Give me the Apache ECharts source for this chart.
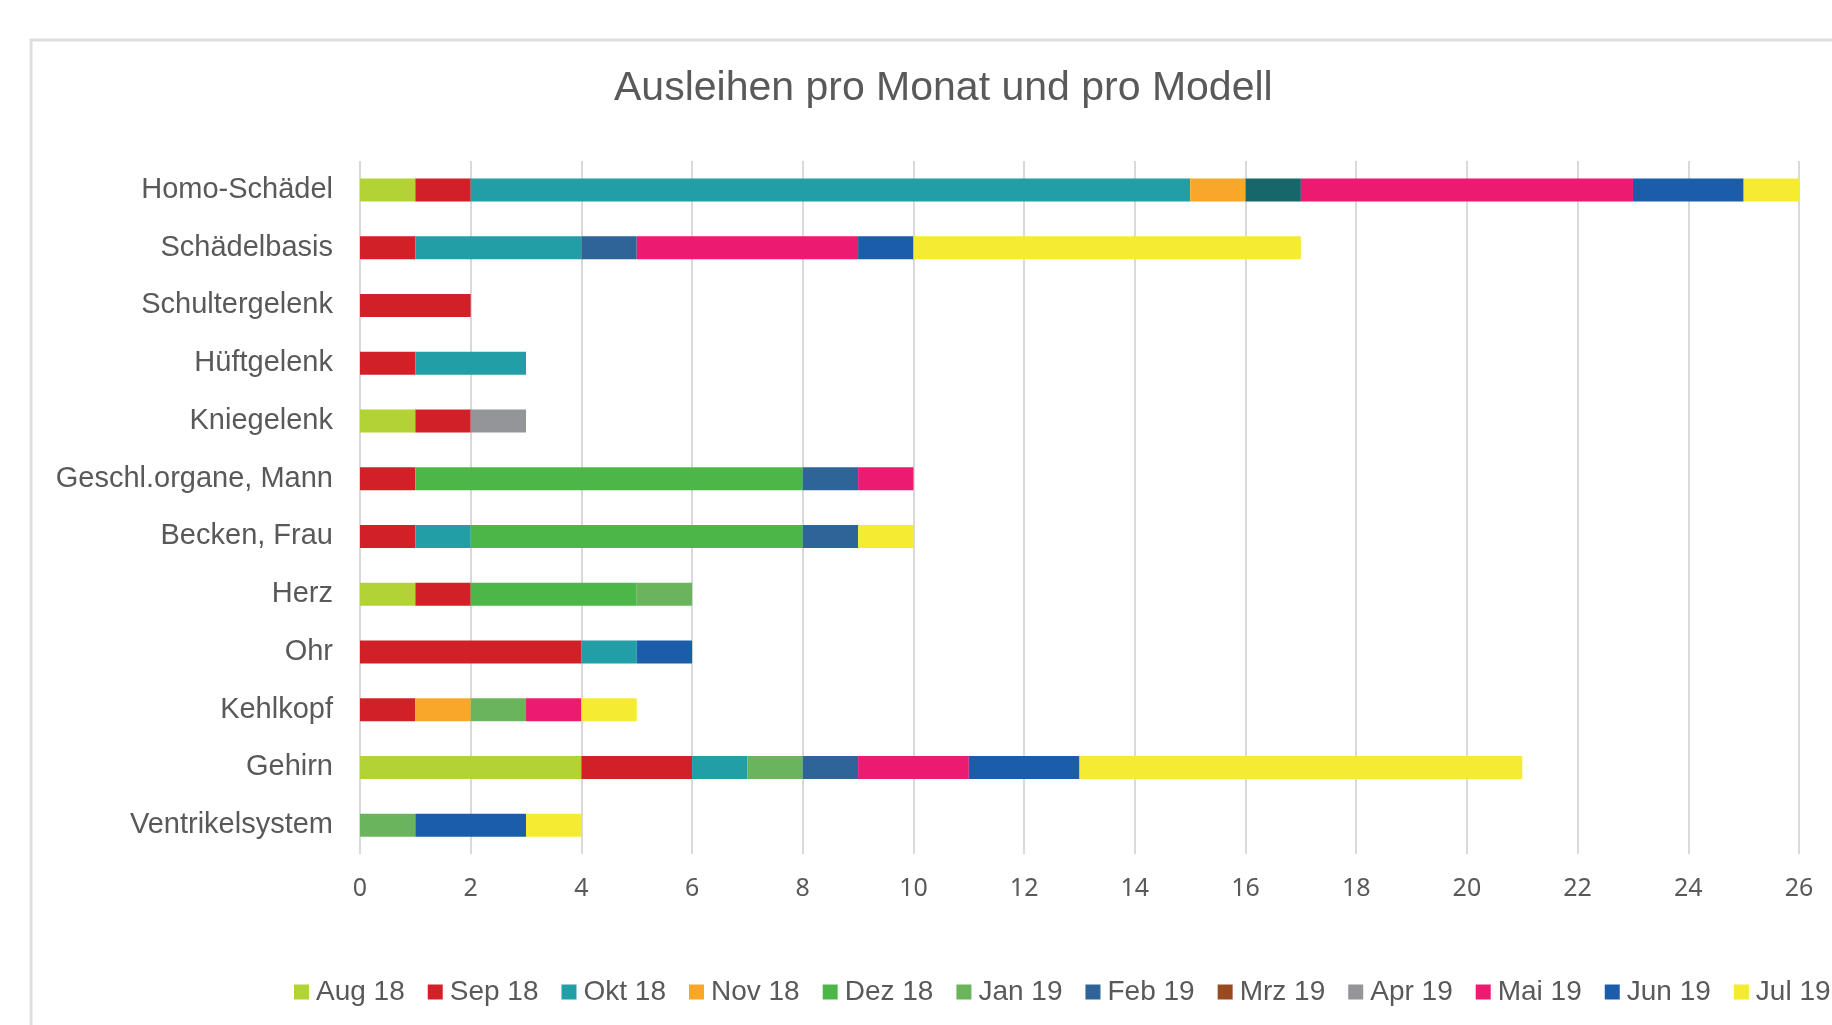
<!DOCTYPE html>
<html>
<head>
<meta charset="utf-8">
<title>Ausleihen pro Monat und pro Modell</title>
<script src="https://cdn.jsdelivr.net/npm/echarts@6/dist/echarts.min.js"></script>
<style>
    html, body { margin: 0; padding: 0; background: #fff; }
    .chart { width: 1832px; height: 1025px; }
</style>
</head>
<body>
<div class="chart"></div>
<script>
// Modelle (von oben nach unten)
var categories = ['Homo-Schädel', 'Schädelbasis', 'Schultergelenk', 'Hüftgelenk', 'Kniegelenk',
    'Geschl.organe, Mann', 'Becken, Frau', 'Herz', 'Ohr', 'Kehlkopf', 'Gehirn', 'Ventrikelsystem'];

var months = ['Aug 18', 'Sep 18', 'Okt 18', 'Nov 18', 'Dez 18', 'Jan 19',
    'Feb 19', 'Mrz 19', 'Apr 19', 'Mai 19', 'Jun 19', 'Jul 19'];

// Ausleihen je Monat, Reihenfolge wie categories
var aug18 = [1, 0, 0, 0, 1, 0, 0, 1, 0, 0, 4, 0];
var sep18 = [1, 1, 2, 1, 1, 1, 1, 1, 4, 1, 2, 0];
var okt18 = [13, 3, 0, 2, 0, 0, 1, 0, 1, 0, 1, 0];
var nov18 = [1, 0, 0, 0, 0, 0, 0, 0, 0, 1, 0, 0];
var dez18 = [0, 0, 0, 0, 0, 7, 6, 3, 0, 0, 0, 0];
var jan19 = [0, 0, 0, 0, 0, 0, 0, 1, 0, 1, 1, 1];
var feb19 = [0, 1, 0, 0, 0, 1, 1, 0, 0, 0, 1, 0];
var mrz19 = [1, 0, 0, 0, 0, 0, 0, 0, 0, 0, 0, 0];
var apr19 = [0, 0, 0, 0, 1, 0, 0, 0, 0, 0, 0, 0];
var mai19 = [6, 4, 0, 0, 0, 1, 0, 0, 0, 1, 2, 0];
var jun19 = [2, 1, 0, 0, 0, 0, 0, 0, 1, 0, 2, 2];
var jul19 = [1, 7, 0, 0, 0, 0, 1, 0, 0, 1, 8, 1];

var xTicks = [0, 2, 4, 6, 8, 10, 12, 14, 16, 18, 20, 22, 24, 26];

var values = [aug18, sep18, okt18, nov18, dez18, jan19, feb19, mrz19, apr19, mai19, jun19, jul19];
var colors = ['#B2D235', '#D12027', '#229EA6', '#F9A729', '#4CB748', '#6AB55B',
    '#2E6497', '#9A4A21', '#939598', '#EC1A70', '#1C5DAA', '#F5EB31'];

var labelColor = '#595959';
var fontFam = "'Liberation Sans', Arial, sans-serif";

var series = months.map(function (m, i) {
    return {
        name: m,
        type: 'bar',
        stack: 'total',
        barWidth: 23,
        itemStyle: { color: colors[i] },
        emphasis: { disabled: true },
        data: values[i].map(function (v, j) {
            if (!v) return '-';
            // im Original ist der Mrz-19-Balken beim Homo-Schädel dunkel eingefärbt
            if (m === 'Mrz 19' && j === 0) return { value: v, itemStyle: { color: '#16666A' } };
            return v;
        })
    };
});

var dom = document.getElementsByClassName('chart')[0];
var myChart = echarts.init(dom, null, { renderer: 'canvas' });
var option = {
    animation: false,
    backgroundColor: '#fff',
    title: {
        text: 'Ausleihen pro Monat und pro Modell',
        left: 609,
        top: 63,
        textStyle: { color: labelColor, fontSize: 41, fontWeight: 'normal', fontFamily: fontFam }
    },
    graphic: [{
        type: 'rect',
        shape: { x: 31, y: 40, width: 1900, height: 1100 },
        style: { fill: 'none', stroke: '#dedede', lineWidth: 3 },
        silent: true
    }],
    legend: {
        data: months,
        left: 289,
        top: 973,
        width: 1700,
        itemWidth: 15,
        itemHeight: 15,
        itemGap: 23,
        icon: 'rect',
        selectedMode: false,
        textStyle: { color: labelColor, fontSize: 28, fontFamily: fontFam, padding: [0, 0, 0, 2] }
    },
    grid: {
        left: 360,
        right: 33,
        top: 161,
        bottom: 171,
        containLabel: false
    },
    xAxis: {
        type: 'value',
        min: xTicks[0],
        max: xTicks[xTicks.length - 1],
        interval: 2,
        axisLine: { show: false },
        axisTick: { show: false },
        splitLine: { show: true, lineStyle: { color: '#d9d9d9', width: 2 } },
        axisLabel: {
            color: labelColor,
            fontSize: 25,
            margin: 22,
            fontFamily: "'Liberation Sans Narrow', 'Noto Sans', sans-serif"
        }
    },
    yAxis: {
        type: 'category',
        inverse: true,
        data: categories,
        axisLine: { show: false },
        axisTick: { show: false },
        axisLabel: { color: labelColor, fontSize: 29, margin: 27, fontFamily: fontFam }
    },
    series: series
};
if (option && typeof option === 'object') {
    myChart.setOption(option, true);
}
</script>
</body>
</html>
